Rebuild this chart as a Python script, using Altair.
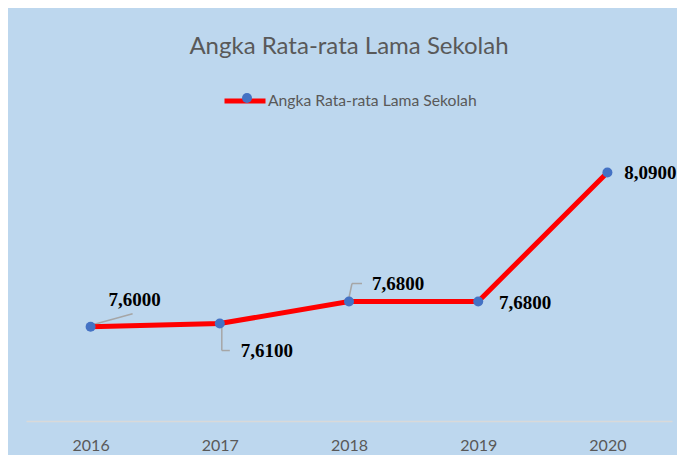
import altair as alt
import pandas as pd

years = ["2016", "2017", "2018", "2019", "2020"]
values = [7.60, 7.61, 7.68, 7.68, 8.09]
labels = ["7,6000", "7,6100", "7,6800", "7,6800", "8,0900"]
series_name = "Angka Rata-rata Lama Sekolah"
title_text = "Angka Rata-rata Lama Sekolah"

df = pd.DataFrame({"year": years, "value": values, "label": labels,
                   "series": [series_name] * len(years)})

BG = "#BDD7EE"
GRAY_TXT = "#595959"

x_enc = alt.X("year:O", scale=alt.Scale(type="point", padding=0.5),
              axis=alt.Axis(title=None, labelAngle=0, ticks=False, grid=False,
                            domainColor="#D9D9D9", domainWidth=1.5,
                            labelFont="Lato", labelFontSize=16, labelColor=GRAY_TXT,
                            labelPadding=16))
y_enc = alt.Y("value:Q", scale=alt.Scale(domain=[7.3, 8.2], nice=False, zero=False), axis=None)

base = alt.Chart(df).encode(x=x_enc, y=y_enc)

line = base.mark_line(strokeWidth=5, strokeCap="round").encode(
    stroke=alt.Stroke("series:N", scale=alt.Scale(range=["#FF0000"]),
                      legend=alt.Legend(orient="none", legendX=196, legendY=-60, title=None,
                                        symbolType="stroke", symbolSize=1681,
                                        symbolStrokeWidth=5, symbolStrokeColor="#FF0000",
                                        labelFont="Lato", labelFontSize=15.7, labelColor=GRAY_TXT,
                                        labelOffset=0, labelLimit=400, zindex=1))
)

points = base.mark_circle(size=100, opacity=1).encode(
    fill=alt.Fill("series:N", scale=alt.Scale(range=["#4472C4"]),
                  legend=alt.Legend(orient="none", legendX=213, legendY=-48, title=None,
                                    symbolType="circle", symbolSize=100,
                                    symbolFillColor="#4472C4", symbolStrokeWidth=0,
                                    labelFont="Lato", labelFontSize=16, labelExpr="''",
                                    zindex=2))
)

def seg(year, x0, y0, x1, y1):
    return alt.Chart(df).transform_filter(alt.datum.year == year).mark_rule(
        color="#A6A6A6", strokeWidth=1.5,
        xOffset=x0, yOffset=y0, x2Offset=x1, y2Offset=y1
    ).encode(x=x_enc, x2="year:O", y=y_enc, y2="value:Q")

leaders = [
    seg("2016", 2, -2, 42, -13),
    seg("2017", 2, 3, 2, 27),
    seg("2017", 2, 27, 10, 27),
    seg("2018", 0, -4, 3, -18),
    seg("2018", 3, -18, 13, -18),
]

label_offsets = {"2016": (44, -27), "2017": (47, 27), "2018": (49, -18),
                 "2019": (47, 1), "2020": (43, 0)}

texts = []
for yr, (dx, dy) in label_offsets.items():
    texts.append(
        base.transform_filter(alt.datum.year == yr).mark_text(
            font="Liberation Serif", fontSize=19, fontWeight="bold", color="#000000",
            align="center", baseline="middle", dx=dx, dy=dy
        ).encode(text="label:N")
    )

chart = alt.layer(*leaders, line, points, *texts).properties(
    width=646, height=283,
    title=alt.Title(title_text, font="Lato", fontSize=24, fontWeight="normal",
                    color=GRAY_TXT, anchor="middle", offset=19),
    padding={"left": 18, "top": 130, "right": 5, "bottom": 34},
    autosize=alt.AutoSizeParams(type="none"),
).configure(background=BG).configure_view(stroke=None)

chart.save("out.html", embed_options={"renderer": "svg", "actions": False})
